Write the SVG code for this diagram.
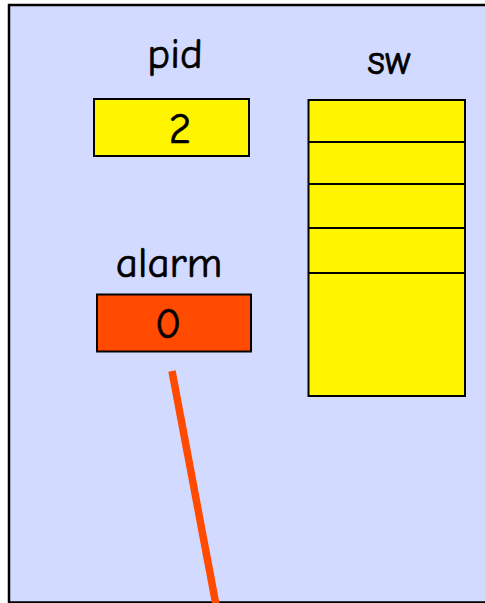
<svg xmlns="http://www.w3.org/2000/svg" width="485" height="603" viewBox="0 0 485 603">
<style>
.lbl{font-family:"Comic Neue","Comic Sans MS","DejaVu Sans",sans-serif;font-size:43px;fill:#000;stroke:#000;stroke-width:0.7;text-anchor:middle}
.box{stroke:#000;stroke-width:2}
.y{fill:#FFF500}
.r{fill:#FF4A00}
</style>
<rect x="9" y="5" width="480" height="597.5" fill="#D2DAFF" stroke="#000" stroke-width="2.5"/>
<g id="pid">
<text class="lbl" x="175" y="68">pid</text>
<rect class="box y" x="94" y="99" width="155" height="57"/>
<text class="lbl" x="180" y="143">2</text>
</g>
<g id="sw">
<text class="lbl" x="389" y="74">sw</text>
<rect class="box y" x="308.5" y="100" width="156.5" height="296"/>
<path d="M308.5 142H465M308.5 184H465M308.5 228H465M308.5 273H465" stroke="#000" stroke-width="2" fill="none"/>
</g>
<g id="alarm">
<text class="lbl" x="169" y="277">alarm</text>
<rect class="box r" x="97" y="294.5" width="154" height="57"/>
<text class="lbl" x="168" y="338">0</text>
</g>
<g id="connectors">
<line x1="172" y1="371" x2="216" y2="605" stroke="#FF4A00" stroke-width="7.5"/>
</g>
</svg>
